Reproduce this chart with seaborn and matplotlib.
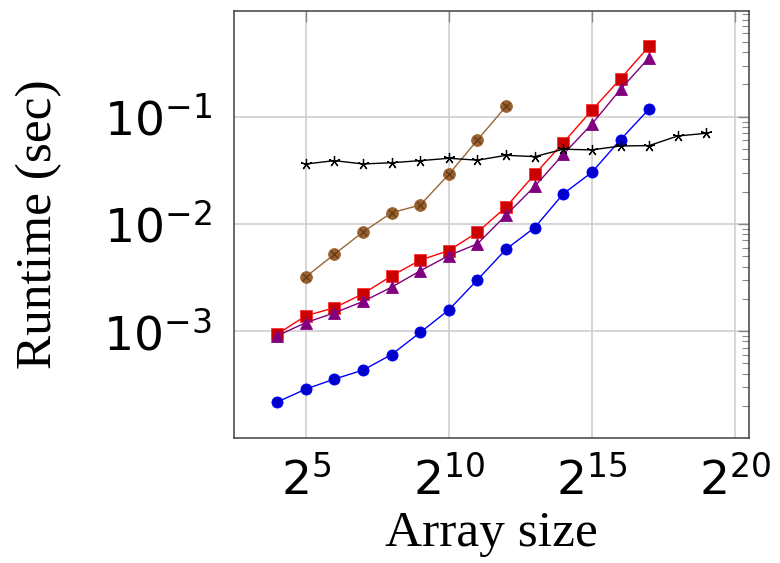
import math
import matplotlib
matplotlib.use("Agg")
import matplotlib.pyplot as plt
import matplotlib.ticker as mticker
import seaborn as sns

# array sizes (powers of two)
sizes_4_17 = [16, 32, 64, 128, 256, 512, 1024, 2048, 4096, 8192,
              16384, 32768, 65536, 131072]
sizes_5_12 = [32, 64, 128, 256, 512, 1024, 2048, 4096]
sizes_5_19 = [32, 64, 128, 256, 512, 1024, 2048, 4096, 8192, 16384,
              32768, 65536, 131072, 262144, 524288]

# runtimes in seconds
blue_times = [0.000218, 0.000288, 0.000357, 0.000433, 0.000605, 0.000971, 0.00158,
              0.00301, 0.00581, 0.00924, 0.0191, 0.0303, 0.0611, 0.118]
red_times = [0.000937, 0.00139, 0.00165, 0.00223, 0.00328, 0.00459, 0.00564,
             0.00835, 0.0144, 0.0290, 0.0573, 0.115, 0.226, 0.453]
purple_times = [0.000904, 0.00120, 0.00148, 0.00189, 0.00257, 0.00365, 0.00507,
                0.00652, 0.0121, 0.0224, 0.0446, 0.0855, 0.180, 0.355]
brown_times = [0.00321, 0.00521, 0.00841, 0.0127, 0.0150, 0.0290, 0.0607, 0.125]
black_times = [0.0362, 0.0389, 0.0362, 0.0372, 0.0389, 0.0409, 0.0393, 0.0436,
               0.0424, 0.0497, 0.0490, 0.0533, 0.0537, 0.0661, 0.0700]

x_ticks = [2**5, 2**10, 2**15, 2**20]

sns.set_theme(style="white")
plt.rcParams["font.family"] = ["DejaVu Sans"]
plt.rcParams["mathtext.fontset"] = "dejavusans"
plt.rcParams["text.color"] = "black"
plt.rcParams["axes.labelcolor"] = "black"
plt.rcParams["xtick.labelcolor"] = "black"
plt.rcParams["ytick.labelcolor"] = "black"


def pow_label(base):
    # power label like 2^{5} / 10^{-1}
    def fmt(val, pos):
        if val <= 0:
            return ""
        e = int(round(math.log(val, base)))
        return r"$%d^{%d}$" % (base, e)
    return mticker.FuncFormatter(fmt)


fig = plt.figure(figsize=(7.8, 5.63), dpi=100)
ax = fig.add_axes([0.3004, 0.2226, 0.6602, 0.7587])

ax.set_xscale("log", base=2)
ax.set_yscale("log")

# series (draw order matters for overlaps)
sns.lineplot(x=sizes_4_17, y=blue_times, ax=ax, color="#0000ff", lw=1.0,
             marker="o", markersize=8, markerfacecolor="#0000cc",
             markeredgecolor="#0000ff", markeredgewidth=0.6)
sns.lineplot(x=sizes_4_17, y=red_times, ax=ax, color="#ff0000", lw=1.0,
             marker="s", markersize=8, markerfacecolor="#cc0000",
             markeredgecolor="#ff3030", markeredgewidth=0.6)
sns.lineplot(x=sizes_4_17, y=purple_times, ax=ax, color="#800080", lw=1.0,
             marker="^", markersize=8, markerfacecolor="#800080",
             markeredgecolor="#800080", markeredgewidth=0.6)
sns.lineplot(x=sizes_5_12, y=brown_times, ax=ax, color="#996633", lw=1.0,
             marker="o", markersize=8.5, markerfacecolor="#99602e",
             markeredgecolor="#996633", markeredgewidth=0.6)
sns.scatterplot(x=sizes_5_12, y=brown_times, ax=ax, marker="x", s=28,
                color="#5c3a1a", linewidth=0.9, zorder=4)
sns.lineplot(x=sizes_5_19, y=black_times, ax=ax, color="black", lw=1.0,
             marker=(5, 2, 0), markersize=8, markeredgecolor="black",
             markeredgewidth=0.9)

ax.set_xlim(2**2.5, 2**20.5)
ax.set_ylim(10**-3.994, 10**-0.01)

ax.xaxis.set_major_locator(mticker.FixedLocator(x_ticks))
ax.xaxis.set_major_formatter(pow_label(2))
ax.xaxis.set_minor_locator(mticker.NullLocator())
ax.yaxis.set_major_locator(mticker.LogLocator(base=10, numticks=10))
ax.yaxis.set_major_formatter(pow_label(10))
ax.yaxis.set_minor_locator(mticker.LogLocator(base=10, subs=range(2, 10), numticks=20))
ax.yaxis.set_minor_formatter(mticker.NullFormatter())

ax.grid(True, which="major", color="#cccccc", lw=1.1)
ax.set_axisbelow(True)

ax.tick_params(axis="both", which="both", direction="in", top=True, right=True,
               color="#888888")
ax.tick_params(axis="both", which="major", length=8, width=1.0)
ax.tick_params(axis="y", which="minor", length=5, width=0.8)
ax.tick_params(axis="x", which="major", labelsize=34, pad=14)
ax.tick_params(axis="y", which="major", labelsize=34, pad=16)

for side in ax.spines.values():
    side.set_color("#404040")
    side.set_linewidth(1.1)

ax.set_xlabel("Array size", fontsize=37, family="Liberation Serif")
ax.set_ylabel("Runtime (sec)", fontsize=37, family="Liberation Serif")
ax.xaxis.set_label_coords(0.5, -0.17)
ax.yaxis.set_label_coords(-0.334, 0.5)

fig.savefig("out.png", dpi=100)
